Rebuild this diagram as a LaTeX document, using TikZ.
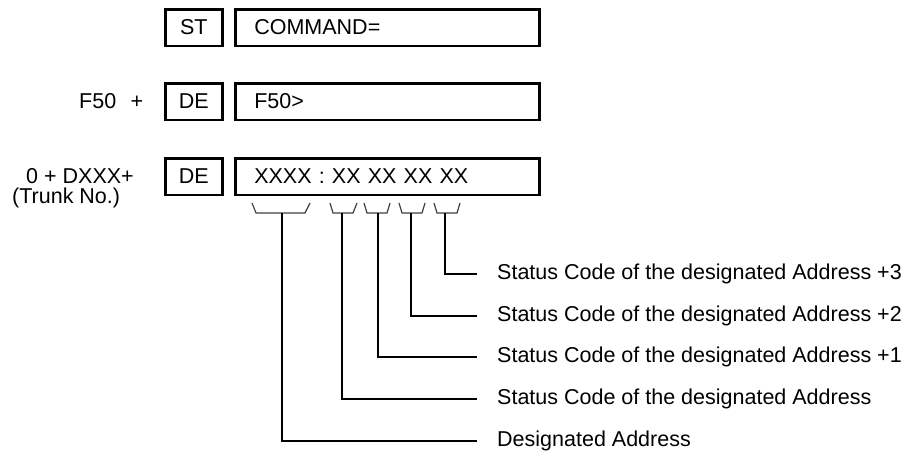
\documentclass[tikz,border=0pt]{standalone}
\usepackage{fontspec}
\setmainfont{Liberation Sans}
\begin{document}
\begin{tikzpicture}[x=1pt,y=-1pt,
  every node/.style={font=\fontsize{21.5}{25}\selectfont, inner sep=0pt},
  smallbox/.style={draw, line width=2.6pt, minimum width=57, minimum height=36.5, anchor=north west},
  bigbox/.style={draw, line width=2.6pt, minimum width=304, minimum height=36.5, anchor=north west,
                 text width=266, align=left, inner xsep=19pt},
  txt/.style={anchor=base west},
  brace/.style={line width=1.2pt, black!75},
  conn/.style={line width=2pt}]
\useasboundingbox (0,0) rectangle (904,458);
% row 1
\node[smallbox] (st) at (164,8) {ST};
\node[bigbox] (cmd) at (234,8) {COMMAND=};
% row 2
\node[anchor=base east] (f50) at (143.5,108) {F50\hspace{14.5pt}+};
\node[smallbox] (de1) at (164,82) {DE};
\node[bigbox] (f50b) at (234,82) {F50>};
% row 3
\node[anchor=base east] (dxxx) at (134,183) {0 + DXXX+};
\node[anchor=base west] (trunk) at (12,203) {(Trunk No.)};
\node[smallbox] (de2) at (164,157) {DE};
\node[bigbox] (xx) at (234,157) {XXXX : XX XX XX XX};
% brackets
\draw[brace] (252,203) -- (256,213) -- (305,213) -- (310,203);
\draw[brace] (330,203) -- (333,213) -- (353,213) -- (357,203);
\draw[brace] (364,203) -- (367,213) -- (387,213) -- (390,203);
\draw[brace] (399,203) -- (402,213) -- (422,213) -- (425,203);
\draw[brace] (434,203) -- (437,213) -- (457,213) -- (460,203);
\coordinate (b1) at (282,213);
\coordinate (b2) at (342,213);
\coordinate (b3) at (378,213);
\coordinate (b4) at (411,213);
\coordinate (b5) at (445,213);
% labels
\node[txt] (l5) at (497,279) {Status Code of the designated Address +3};
\node[txt] (l4) at (497,321) {Status Code of the designated Address +2};
\node[txt] (l3) at (497,362) {Status Code of the designated Address +1};
\node[txt] (l2) at (497,404) {Status Code of the designated Address};
\node[txt] (l1) at (497,446) {Designated Address};
\coordinate (e5) at (477,274);
\coordinate (e4) at (477,316);
\coordinate (e3) at (477,357);
\coordinate (e2) at (477,399);
\coordinate (e1) at (477,441);
\draw[conn] (b5) |- (e5);
\draw[conn] (b4) |- (e4);
\draw[conn] (b3) |- (e3);
\draw[conn] (b2) |- (e2);
\draw[conn] (b1) |- (e1);
\end{tikzpicture}
\end{document}
